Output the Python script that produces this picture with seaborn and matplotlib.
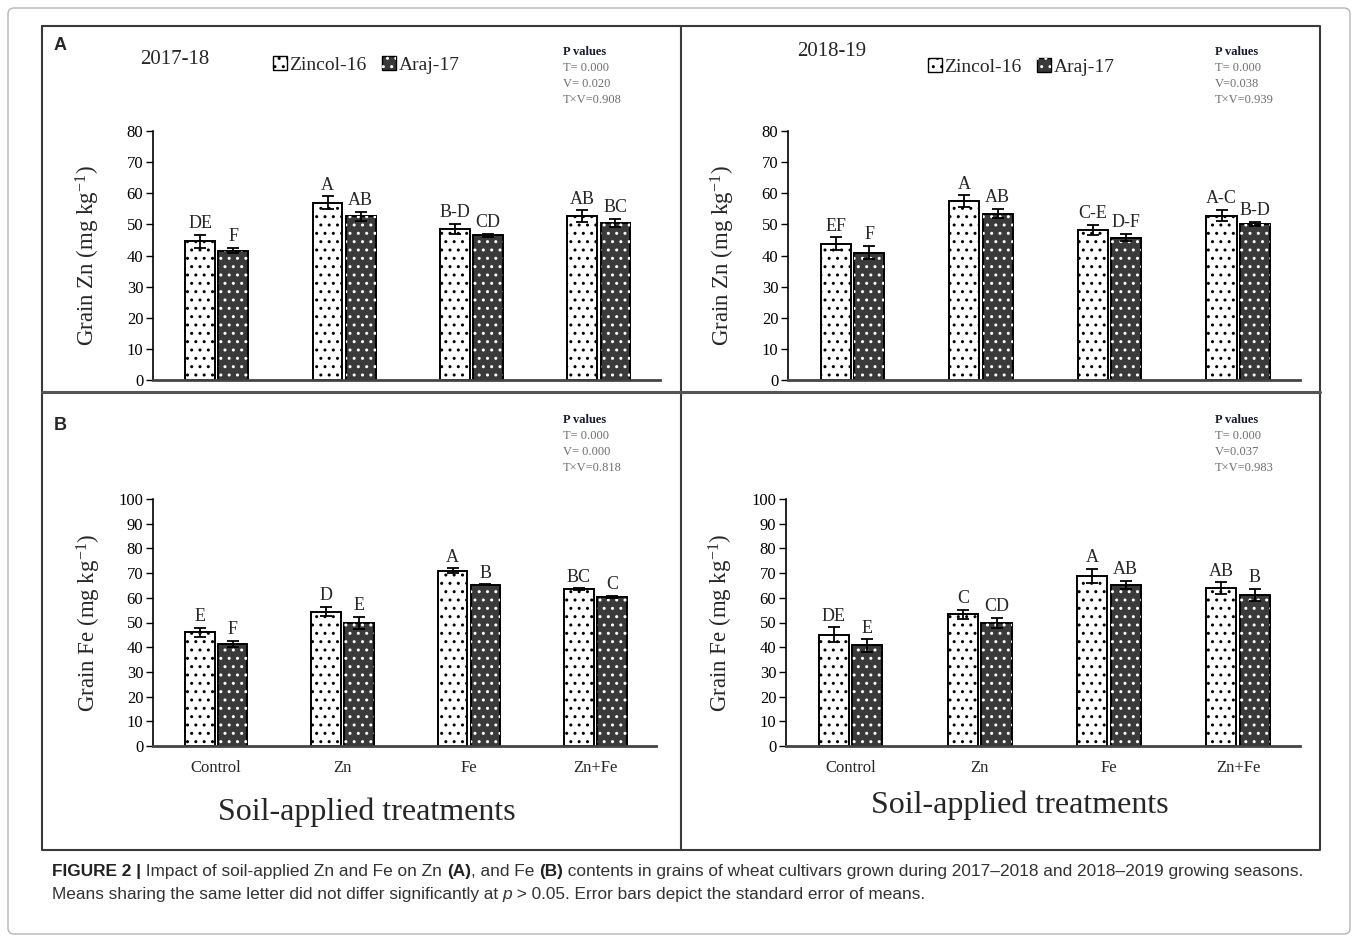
import pandas as pd
import matplotlib
matplotlib.use("Agg")
import matplotlib.pyplot as plt
import seaborn as sns
from matplotlib.patches import Rectangle, Patch, FancyBboxPatch
from matplotlib.legend_handler import HandlerTuple
from matplotlib import font_manager

# -------------------------
# Data
# -------------------------
treatments = ["Control", "Zn", "Fe", "Zn+Fe"]
cultivars = ["Zincol-16", "Araj-17"]

# A: grain Zn 2017-18
zn1718_zincol = [44.5, 57.0, 48.5, 52.6]
zn1718_araj = [41.6, 52.6, 46.5, 50.4]
zn1718_se_zincol = [2.0, 2.0, 1.6, 1.9]
zn1718_se_araj = [0.9, 1.5, 0.4, 1.3]
zn1718_let_zincol = ["DE", "A", "B-D", "AB"]
zn1718_let_araj = ["F", "AB", "CD", "BC"]

# A: grain Zn 2018-19
zn1819_zincol = [43.8, 57.4, 48.2, 52.8]
zn1819_araj = [40.9, 53.4, 45.7, 50.1]
zn1819_se_zincol = [2.0, 1.9, 1.6, 1.8]
zn1819_se_araj = [2.1, 1.5, 1.2, 0.7]
zn1819_let_zincol = ["EF", "A", "C-E", "A-C"]
zn1819_let_araj = ["F", "AB", "D-F", "B-D"]

# B: grain Fe 2017-18
fe1718_zincol = [46.1, 54.4, 70.9, 63.5]
fe1718_araj = [41.3, 49.8, 65.2, 60.4]
fe1718_se_zincol = [1.8, 1.8, 1.0, 0.3]
fe1718_se_araj = [1.2, 2.5, 0.2, 0.5]
fe1718_let_zincol = ["E", "D", "A", "BC"]
fe1718_let_araj = ["F", "E", "B", "C"]

# B: grain Fe 2018-19
fe1819_zincol = [45.0, 53.4, 68.9, 63.8]
fe1819_araj = [40.7, 49.8, 65.3, 61.1]
fe1819_se_zincol = [3.0, 1.8, 2.8, 2.4]
fe1819_se_araj = [2.5, 2.2, 1.7, 2.5]
fe1819_let_zincol = ["DE", "C", "A", "AB"]
fe1819_let_araj = ["E", "CD", "AB", "B"]

seasons = ["2017-18", "2018-19"]
pvals_zn = [["T= 0.000", "V= 0.020", "T×V=0.908"], ["T= 0.000", "V=0.038", "T×V=0.939"]]
pvals_fe = [["T= 0.000", "V= 0.000", "T×V=0.818"], ["T= 0.000", "V=0.037", "T×V=0.983"]]

# -------------------------
# Style
# -------------------------
sns.set_theme(style="white")
plt.rcParams["font.family"] = ["Liberation Serif", "DejaVu Serif"]
plt.rcParams["mathtext.fontset"] = "custom"
plt.rcParams["mathtext.rm"] = "Liberation Serif"
plt.rcParams["mathtext.it"] = "Liberation Serif:italic"
plt.rcParams["hatch.linewidth"] = 1.0


def has_font(name):
    try:
        font_manager.findfont(font_manager.FontProperties(family=name), fallback_to_default=False)
        return True
    except ValueError:
        return False


if has_font("Liberation Sans Narrow"):
    CAP_FONT, CAP_SIZE = "Liberation Sans Narrow", 12
else:
    CAP_FONT, CAP_SIZE = "Liberation Sans", 12.4

ZINCOL_FC = "white"
ARAJ_FC = "#3a3a3a"

W, H = 1358, 939
fig = plt.figure(figsize=(W / 100, H / 100), dpi=100)

# background axes in pixel units for frames and free text
bg = fig.add_axes([0, 0, 1, 1])
bg.set_xlim(0, W)
bg.set_ylim(H, 0)
bg.axis("off")


def rect(l, t, r, b):
    return [l / W, 1 - b / H, (r - l) / W, (b - t) / H]


def draw_panel(ax, zincol, araj, se_z, se_a, lz, la, ymax, ylabel, show_x, xlab_pos=None):
    df = pd.DataFrame({
        "treatment": treatments * 2,
        "cultivar": [cultivars[0]] * 4 + [cultivars[1]] * 4,
        "value": zincol + araj,
    })
    sns.barplot(data=df, x="treatment", y="value", hue="cultivar", order=treatments,
                hue_order=cultivars, palette=[ZINCOL_FC, ARAJ_FC], saturation=1,
                width=0.52, gap=0.1, edgecolor="black", linewidth=1.4,
                errorbar=None, legend=False, ax=ax)
    for bar in ax.containers[0]:
        bar.set_hatch("..")
    for bar in ax.containers[1]:
        ax.add_patch(Rectangle(bar.get_xy(), bar.get_width(), bar.get_height(), fill=False,
                               edgecolor="white", hatch="..", linewidth=0, zorder=bar.get_zorder() + 0.1))
    for cont, vals, errs, labs in zip(ax.containers, [zincol, araj], [se_z, se_a], [lz, la]):
        xs = [b.get_x() + b.get_width() / 2 for b in cont]
        ax.errorbar(xs, vals, yerr=errs, fmt="none", ecolor="black", elinewidth=1.3,
                    capsize=4, capthick=1.3, zorder=5)
        for x, v, e, lab in zip(xs, vals, errs, labs):
            ax.annotate(lab, (x, v + e), xytext=(0, 2), textcoords="offset points",
                        ha="center", va="bottom", fontsize=13)

    ax.set_facecolor("none")
    ax.set_ylim(0, ymax)
    ax.set_yticks(range(0, ymax + 1, 10))
    ax.set_xlim(-0.5, 3.48)
    sns.despine(ax=ax)
    ax.spines["left"].set_color("black")
    ax.spines["left"].set_linewidth(1.2)
    ax.spines["bottom"].set_color("#444444")
    ax.spines["bottom"].set_linewidth(2)
    ax.tick_params(axis="y", direction="out", length=5, width=1, labelsize=12, pad=2,
                   left=True, colors="black")
    ax.tick_params(axis="x", length=0, labelsize=12, pad=10)
    ax.set_ylabel(ylabel, fontsize=16.5)
    ax.yaxis.set_label_coords(-0.1, 0.5)
    if show_x:
        ax.set_xlabel("Soil-applied treatments", fontsize=23)
        ax.xaxis.set_label_coords(*xlab_pos)
    else:
        ax.set_xlabel("")
        ax.set_xticklabels([])


ax_tl = fig.add_axes(rect(153, 131, 660, 380))
ax_tr = fig.add_axes(rect(788, 131, 1300, 380))
ax_bl = fig.add_axes(rect(153, 499, 656, 746))
ax_br = fig.add_axes(rect(786, 499, 1300, 746))

zn_lab = "Grain Zn (mg kg$^{-1}$)"
fe_lab = "Grain Fe (mg kg$^{-1}$)"
draw_panel(ax_tl, zn1718_zincol, zn1718_araj, zn1718_se_zincol, zn1718_se_araj,
           zn1718_let_zincol, zn1718_let_araj, 80, zn_lab, False)
draw_panel(ax_tr, zn1819_zincol, zn1819_araj, zn1819_se_zincol, zn1819_se_araj,
           zn1819_let_zincol, zn1819_let_araj, 80, zn_lab, False)
draw_panel(ax_bl, fe1718_zincol, fe1718_araj, fe1718_se_zincol, fe1718_se_araj,
           fe1718_let_zincol, fe1718_let_araj, 100, fe_lab, True, (0.425, -0.21))
draw_panel(ax_br, fe1819_zincol, fe1819_araj, fe1819_se_zincol, fe1819_se_araj,
           fe1819_let_zincol, fe1819_let_araj, 100, fe_lab, True, (0.455, -0.18))

# legends
handles = [Patch(facecolor=ZINCOL_FC, edgecolor="black", hatch="..", linewidth=1),
           (Patch(facecolor=ARAJ_FC, edgecolor="black", linewidth=1),
            Patch(fill=False, edgecolor="white", hatch="..", linewidth=0))]
for ax, (lx, ly) in [(ax_tl, (273, 65)), (ax_tr, (928, 67))]:
    ax.legend(handles, cultivars, handler_map={tuple: HandlerTuple(ndivide=1, pad=0)},
              loc="center left", bbox_to_anchor=(lx / W, 1 - ly / H), bbox_transform=fig.transFigure,
              frameon=False, ncol=2, handlelength=0.7, handleheight=0.7, handletextpad=0.15,
              columnspacing=0.8, fontsize=14, borderpad=0, borderaxespad=0)

# season labels
bg.text(140, 60, seasons[0], fontsize=15, va="center", ha="left")
bg.text(797, 51, seasons[1], fontsize=15, va="center", ha="left")

# p values
for (px, py), lines in [((563, 52), pvals_zn[0]), ((1215, 52), pvals_zn[1]),
                        ((563, 420), pvals_fe[0]), ((1215, 420), pvals_fe[1])]:
    bg.text(px, py, "P values", fontsize=9, fontweight="bold", color="#1a1a33", va="center")
    for i, s in enumerate(lines):
        bg.text(px, py + 16 * (i + 1), s, fontsize=9, color="#6e6e6e", va="center")

# panel letters
bg.text(54, 45, "A", fontsize=13, fontweight="bold", family="Liberation Sans", va="center")
bg.text(54, 425, "B", fontsize=13, fontweight="bold", family="Liberation Sans", va="center")

# frames
bg.add_patch(FancyBboxPatch((8, 8), 1342, 926, boxstyle="round,pad=0,rounding_size=6",
                            fill=False, edgecolor="#b5b5b5", linewidth=1))
bg.plot([42, 1320, 1320, 42, 42], [26, 26, 850, 850, 26], color="#3a3a3a", lw=1.5)
bg.plot([681, 681], [26, 850], color="#3a3a3a", lw=1.5)
bg.plot([42, 1320], [392, 392], color="#555555", lw=2.2)


# caption
def caption_line(x, y, pieces):
    prev = None
    for text, weight, style in pieces:
        kw = dict(fontsize=CAP_SIZE, family=CAP_FONT, fontweight=weight, fontstyle=style,
                  color="#222222" if weight == "bold" else "#333333", va="bottom", ha="left")
        if prev is None:
            prev = bg.text(x, y, text, **kw)
        else:
            prev = bg.annotate(text, xy=(1, 0), xycoords=prev, **kw)


caption_line(52, 879, [("FIGURE 2 |", "bold", "normal"),
                       (" Impact of soil-applied Zn and Fe on Zn ", "normal", "normal"),
                       ("(A)", "bold", "normal"),
                       (", and Fe ", "normal", "normal"),
                       ("(B)", "bold", "normal"),
                       (" contents in grains of wheat cultivars grown during 2017\u20132018 and "
                        "2018\u20132019 growing seasons.", "normal", "normal")])
caption_line(52, 902, [("Means sharing the same letter did not differ significantly at ", "normal", "normal"),
                       ("p", "normal", "italic"),
                       (" > 0.05. Error bars depict the standard error of means.", "normal", "normal")])

fig.savefig("out.png", dpi=100)
